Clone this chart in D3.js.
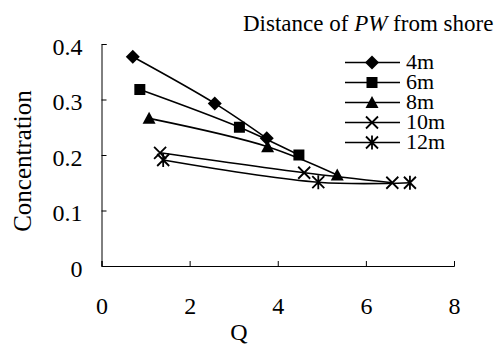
<!DOCTYPE html>
<html lang="en">
<head>
  <meta charset="UTF-8">
  <title>Concentration vs Q</title>
  <style>
    body { margin: 0; background: #fff; }
    svg { display: block; }
    .axis path, .axis line { stroke: #000; stroke-width: 1px; }
    .series { fill: none; stroke: #000; stroke-width: 1.6px; }
  </style>
</head>
<body>
  <svg width="497" height="345"></svg>
  <script src="https://d3js.org/d3.v7.min.js"></script>
  <script>
    // series: [Q, concentration]
    const seriesNames = ["4m", "6m", "8m", "10m", "12m"];
    const s4m  = [[0.71, 0.377], [2.57, 0.293], [3.75, 0.230]];
    const s6m  = [[0.87, 0.318], [3.13, 0.250], [4.48, 0.200]];
    const s8m  = [[1.08, 0.266], [3.77, 0.215], [5.35, 0.164]];
    const s10m = [[1.33, 0.204], [4.60, 0.168], [6.60, 0.150]];
    const s12m = [[1.40, 0.191], [4.92, 0.151], [7.00, 0.150]];
    const seriesData = [s4m, s6m, s8m, s10m, s12m];
    const xTicks = [0, 2, 4, 6, 8];
    const yTicks = [0, 0.1, 0.2, 0.3, 0.4];

    const FONT = "Liberation Serif";
    const svg = d3.select("svg");
    const x = d3.scaleLinear().domain([0, 8]).range([101.5, 454]);
    const y = d3.scaleLinear().domain([0, 0.4]).range([266, 44]);

    // axes, ticks pointing inward
    const xAxis = svg.append("g").attr("class", "axis")
      .attr("transform", "translate(0," + y(0) + ")")
      .call(d3.axisBottom(x).tickValues(xTicks).tickSize(-5).tickSizeOuter(-5).tickPadding(31)
        .tickFormat(d3.format("d")));
    xAxis.attr("font-family", FONT).attr("font-size", 24);
    xAxis.selectAll("text").attr("fill", "#000");

    const yAxis = svg.append("g").attr("class", "axis")
      .attr("transform", "translate(" + x(0) + ",0)")
      .call(d3.axisLeft(y).tickValues(yTicks).tickSize(-5).tickSizeOuter(-5).tickPadding(19)
        .tickFormat(d => d === 0 ? "0" : d3.format(".1f")(d)));
    yAxis.attr("font-family", FONT).attr("font-size", 24);
    yAxis.selectAll("text").attr("fill", "#000").attr("dy", "0.42em");

    svg.append("text").attr("x", 239).attr("y", 340).attr("text-anchor", "middle")
      .attr("font-family", FONT).attr("font-size", 24).text("Q");
    svg.append("text").attr("transform", "translate(31,161) rotate(-90)")
      .attr("text-anchor", "middle").attr("font-family", FONT).attr("font-size", 25).text("Concentration");

    const title = svg.append("text").attr("x", 243).attr("y", 31)
      .attr("font-family", FONT).attr("font-size", 23);
    title.append("tspan").text("Distance of ");
    title.append("tspan").attr("font-style", "italic").text("PW");
    title.append("tspan").text(" from shore");

    // marker shapes
    function marker(g, i) {
      if (i === 0) {
        g.append("path").attr("d", "M0,-7L7,0L0,7L-7,0Z").attr("fill", "#000");
      } else if (i === 1) {
        g.append("rect").attr("x", -5.5).attr("y", -5.5).attr("width", 11).attr("height", 11).attr("fill", "#000");
      } else if (i === 2) {
        g.append("path").attr("d", "M0,-6.5L6.5,5.5L-6.5,5.5Z").attr("fill", "#000");
      } else if (i === 3) {
        g.append("path").attr("d", "M-6,-6L6,6M-6,6L6,-6").attr("stroke", "#000").attr("stroke-width", 1.8);
      } else {
        g.append("path").attr("d", "M-6,-6L6,6M-6,6L6,-6M0,-7L0,7").attr("stroke", "#000").attr("stroke-width", 1.8);
      }
    }

    const line = d3.line().x(d => x(d[0])).y(d => y(d[1])).curve(d3.curveCatmullRom.alpha(0.5));

    seriesData.forEach(data => {
      svg.append("path").attr("class", "series").attr("d", line(data));
    });
    seriesData.forEach((data, i) => {
      data.forEach(d => {
        marker(svg.append("g").attr("transform", "translate(" + x(d[0]) + "," + y(d[1]) + ")"), i);
      });
    });

    // legend
    const legend = svg.append("g");
    seriesNames.forEach((name, i) => {
      const ly = 62.5 + i * 20;
      legend.append("line").attr("x1", 345).attr("x2", 400).attr("y1", ly).attr("y2", ly)
        .attr("stroke", "#000").attr("stroke-width", 1.6);
      marker(legend.append("g").attr("transform", "translate(372," + ly + ")"), i);
      legend.append("text").attr("x", 406).attr("y", ly + 6).attr("font-family", FONT)
        .attr("font-size", 22).text(name);
    });
  </script>
</body>
</html>
